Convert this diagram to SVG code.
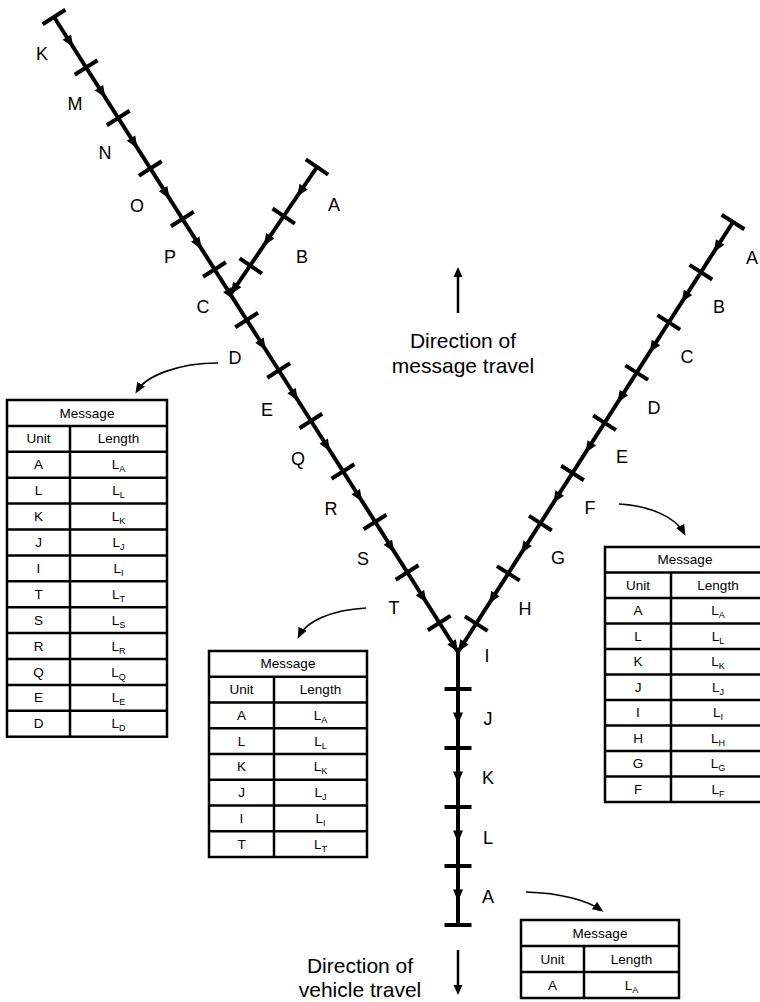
<svg xmlns="http://www.w3.org/2000/svg" xmlns:xlink="http://www.w3.org/1999/xlink" width="760" height="1002" viewBox="0 0 760 1002">
<style>
.main{stroke:#000;stroke-width:4;fill:none}
.tk{stroke:#000;stroke-width:4}
.lbl{font-family:"Liberation Sans",Arial,sans-serif;font-size:18px;fill:#000;text-anchor:middle}
.dir{font-family:"Liberation Sans",Arial,sans-serif;font-size:21px;fill:#000;text-anchor:middle}
.tb{fill:#fff;stroke:#000;stroke-width:2.5}
.tl{stroke:#000;stroke-width:2.5}
.tt{font-family:"Liberation Sans",Arial,sans-serif;font-size:13.5px;fill:#000;text-anchor:middle}
.sub{font-size:9px;fill:#000}
.curve{stroke:#000;stroke-width:1.6;fill:none}
.darr{stroke:#000;stroke-width:2.5;fill:none}
</style>
<defs>
<path id="ah" d="M6,0 L-6,-5 L-6,5 Z" fill="#000"/>
<line id="tick" x1="0" y1="-13.5" x2="0" y2="13.5" class="tk"/>
<marker id="ca" markerUnits="userSpaceOnUse" markerWidth="11" markerHeight="11" refX="8" refY="5.5" orient="auto"><path d="M0,1 L11,5.5 L0,10 Z" fill="#000"/></marker>
<marker id="da" markerUnits="userSpaceOnUse" markerWidth="10" markerHeight="12" refX="2" refY="5" orient="auto"><path d="M0,0.5 L10,5 L0,9.5 Z" fill="#000"/></marker>
</defs>

<g id="connectors">
  <!-- left main line K..T -->
  <g id="line-left">
    <line x1="54" y1="17" x2="458" y2="652" class="main"/>
    <use xlink:href="#tick" transform="translate(54,17) rotate(57.56)"/>
    <use xlink:href="#tick" transform="translate(86.1,67.5) rotate(57.56)"/>
    <use xlink:href="#tick" transform="translate(118.2,118) rotate(57.56)"/>
    <use xlink:href="#tick" transform="translate(150.3,168.5) rotate(57.56)"/>
    <use xlink:href="#tick" transform="translate(182.4,219) rotate(57.56)"/>
    <use xlink:href="#tick" transform="translate(214.5,269.5) rotate(57.56)"/>
    <use xlink:href="#tick" transform="translate(246.6,320) rotate(57.56)"/>
    <use xlink:href="#tick" transform="translate(278.7,370.5) rotate(57.56)"/>
    <use xlink:href="#tick" transform="translate(310.8,421) rotate(57.56)"/>
    <use xlink:href="#tick" transform="translate(342.9,471.5) rotate(57.56)"/>
    <use xlink:href="#tick" transform="translate(375,522) rotate(57.56)"/>
    <use xlink:href="#tick" transform="translate(407.1,572.5) rotate(57.56)"/>
    <use xlink:href="#tick" transform="translate(439.2,623) rotate(57.56)"/>
    <use xlink:href="#ah" transform="translate(70.05,42.25) rotate(57.56)"/>
    <use xlink:href="#ah" transform="translate(102.15,92.75) rotate(57.56)"/>
    <use xlink:href="#ah" transform="translate(134.25,143.25) rotate(57.56)"/>
    <use xlink:href="#ah" transform="translate(166.35,193.75) rotate(57.56)"/>
    <use xlink:href="#ah" transform="translate(198.45,244.25) rotate(57.56)"/>
    <use xlink:href="#ah" transform="translate(230.55,294.75) rotate(57.56)"/>
    <use xlink:href="#ah" transform="translate(262.65,345.25) rotate(57.56)"/>
    <use xlink:href="#ah" transform="translate(294.75,395.75) rotate(57.56)"/>
    <use xlink:href="#ah" transform="translate(326.85,446.25) rotate(57.56)"/>
    <use xlink:href="#ah" transform="translate(358.95,496.75) rotate(57.56)"/>
    <use xlink:href="#ah" transform="translate(391.05,547.25) rotate(57.56)"/>
    <use xlink:href="#ah" transform="translate(423.15,597.75) rotate(57.56)"/>
    <use xlink:href="#ah" transform="translate(454.8,646.9) rotate(57.56)"/>
  </g>
  <!-- short branch A,B -->
  <g id="line-branch">
    <line x1="317" y1="167" x2="230.5" y2="294.5" class="main"/>
    <use xlink:href="#tick" transform="translate(317,167) rotate(124.15)"/>
    <use xlink:href="#tick" transform="translate(283.7,216.1) rotate(124.15)"/>
    <use xlink:href="#tick" transform="translate(250.8,266) rotate(124.15)"/>
    <use xlink:href="#ah" transform="translate(300.3,191.6) rotate(124.15)"/>
    <use xlink:href="#ah" transform="translate(267,240.7) rotate(124.15)"/>
    <use xlink:href="#ah" transform="translate(233.9,289.5) rotate(124.15)"/>
  </g>
  <!-- right main line A..H -->
  <g id="line-right">
    <line x1="733" y1="222" x2="458" y2="652" class="main"/>
    <use xlink:href="#tick" transform="translate(733,222) rotate(122.6)"/>
    <use xlink:href="#tick" transform="translate(700.9,272.2) rotate(122.6)"/>
    <use xlink:href="#tick" transform="translate(668.8,322.4) rotate(122.6)"/>
    <use xlink:href="#tick" transform="translate(636.7,372.6) rotate(122.6)"/>
    <use xlink:href="#tick" transform="translate(604.6,422.8) rotate(122.6)"/>
    <use xlink:href="#tick" transform="translate(572.5,473) rotate(122.6)"/>
    <use xlink:href="#tick" transform="translate(540.4,523.2) rotate(122.6)"/>
    <use xlink:href="#tick" transform="translate(508.3,573.4) rotate(122.6)"/>
    <use xlink:href="#tick" transform="translate(476.2,623.6) rotate(122.6)"/>
    <use xlink:href="#ah" transform="translate(716.95,247.1) rotate(122.6)"/>
    <use xlink:href="#ah" transform="translate(684.85,297.3) rotate(122.6)"/>
    <use xlink:href="#ah" transform="translate(652.75,347.5) rotate(122.6)"/>
    <use xlink:href="#ah" transform="translate(620.65,397.7) rotate(122.6)"/>
    <use xlink:href="#ah" transform="translate(588.55,447.9) rotate(122.6)"/>
    <use xlink:href="#ah" transform="translate(556.45,498.1) rotate(122.6)"/>
    <use xlink:href="#ah" transform="translate(524.35,548.3) rotate(122.6)"/>
    <use xlink:href="#ah" transform="translate(492.25,598.5) rotate(122.6)"/>
    <use xlink:href="#ah" transform="translate(461.2,646.9) rotate(122.6)"/>
  </g>
  <!-- vertical I..A -->
  <g id="line-vertical">
    <line x1="458" y1="650" x2="458" y2="925" class="main"/>
    <use xlink:href="#tick" transform="translate(458,689) rotate(90)"/>
    <use xlink:href="#tick" transform="translate(458,748) rotate(90)"/>
    <use xlink:href="#tick" transform="translate(458,807) rotate(90)"/>
    <use xlink:href="#tick" transform="translate(458,866) rotate(90)"/>
    <use xlink:href="#tick" transform="translate(458,925) rotate(90)"/>
    <use xlink:href="#ah" transform="translate(458,718.5) rotate(90)"/>
    <use xlink:href="#ah" transform="translate(458,777.5) rotate(90)"/>
    <use xlink:href="#ah" transform="translate(458,836.5) rotate(90)"/>
    <use xlink:href="#ah" transform="translate(458,895.5) rotate(90)"/>
  </g>
  <!-- curved callout arrows -->
  <path d="M218,363 C178,363 146,376 137,391" class="curve" marker-end="url(#ca)"/>
  <path d="M366,608 C330,610 306,622 299,636" class="curve" marker-end="url(#ca)"/>
  <path d="M619,504 C652,506 676,518 684,533" class="curve" marker-end="url(#ca)"/>
  <path d="M526,892 C562,893 588,901 601,910" class="curve" marker-end="url(#ca)"/>
  <!-- direction arrows -->
  <line x1="458" y1="313" x2="458" y2="275" class="darr" marker-end="url(#da)"/>
  <line x1="458" y1="950" x2="458" y2="987" class="darr" marker-end="url(#da)"/>
</g>

<g id="labels">
  <text class="lbl" x="42" y="59.5">K</text>
  <text class="lbl" x="75" y="109.5">M</text>
  <text class="lbl" x="105" y="158.5">N</text>
  <text class="lbl" x="137" y="211.5">O</text>
  <text class="lbl" x="170" y="262.5">P</text>
  <text class="lbl" x="203" y="312.5">C</text>
  <text class="lbl" x="235" y="363.5">D</text>
  <text class="lbl" x="267" y="415.5">E</text>
  <text class="lbl" x="298" y="464.5">Q</text>
  <text class="lbl" x="331" y="514.5">R</text>
  <text class="lbl" x="363" y="564.5">S</text>
  <text class="lbl" x="394" y="613.5">T</text>
  <text class="lbl" x="334" y="210.5">A</text>
  <text class="lbl" x="302" y="262.5">B</text>
  <text class="lbl" x="752" y="263.5">A</text>
  <text class="lbl" x="719" y="312.5">B</text>
  <text class="lbl" x="687" y="362.5">C</text>
  <text class="lbl" x="654" y="413.5">D</text>
  <text class="lbl" x="622" y="462.5">E</text>
  <text class="lbl" x="590" y="513.5">F</text>
  <text class="lbl" x="558" y="563.5">G</text>
  <text class="lbl" x="525" y="614.5">H</text>
  <text class="lbl" x="487" y="661.5">I</text>
  <text class="lbl" x="488" y="724.5">J</text>
  <text class="lbl" x="488" y="783.5">K</text>
  <text class="lbl" x="488" y="843.5">L</text>
  <text class="lbl" x="488" y="902.5">A</text>
  <text class="dir" x="463" y="348">Direction of</text>
  <text class="dir" x="463" y="373">message travel</text>
  <text class="dir" x="360" y="973">Direction of</text>
  <text class="dir" x="360" y="997">vehicle travel</text>
</g>

<g id="table-D">
  <rect x="7" y="400" width="160" height="336.7" class="tb"/>
  <line x1="7" y1="425.9" x2="167" y2="425.9" class="tl"/>
  <line x1="7" y1="451.8" x2="167" y2="451.8" class="tl"/>
  <line x1="7" y1="477.7" x2="167" y2="477.7" class="tl"/>
  <line x1="7" y1="503.6" x2="167" y2="503.6" class="tl"/>
  <line x1="7" y1="529.5" x2="167" y2="529.5" class="tl"/>
  <line x1="7" y1="555.4" x2="167" y2="555.4" class="tl"/>
  <line x1="7" y1="581.3" x2="167" y2="581.3" class="tl"/>
  <line x1="7" y1="607.2" x2="167" y2="607.2" class="tl"/>
  <line x1="7" y1="633.1" x2="167" y2="633.1" class="tl"/>
  <line x1="7" y1="659" x2="167" y2="659" class="tl"/>
  <line x1="7" y1="684.9" x2="167" y2="684.9" class="tl"/>
  <line x1="7" y1="710.8" x2="167" y2="710.8" class="tl"/>
  <line x1="70" y1="425.9" x2="70" y2="736.7" class="tl"/>
  <text class="tt" x="87" y="417.5">Message</text>
  <text class="tt" x="38.5" y="443.4">Unit</text>
  <text class="tt" x="118.5" y="443.4">Length</text>
  <text class="tt" x="38.5" y="469.3">A</text><text class="tt" x="118.5" y="469.3">L<tspan class="sub" dy="3">A</tspan></text>
  <text class="tt" x="38.5" y="495.2">L</text><text class="tt" x="118.5" y="495.2">L<tspan class="sub" dy="3">L</tspan></text>
  <text class="tt" x="38.5" y="521.1">K</text><text class="tt" x="118.5" y="521.1">L<tspan class="sub" dy="3">K</tspan></text>
  <text class="tt" x="38.5" y="547">J</text><text class="tt" x="118.5" y="547">L<tspan class="sub" dy="3">J</tspan></text>
  <text class="tt" x="38.5" y="572.9">I</text><text class="tt" x="118.5" y="572.9">L<tspan class="sub" dy="3">I</tspan></text>
  <text class="tt" x="38.5" y="598.8">T</text><text class="tt" x="118.5" y="598.8">L<tspan class="sub" dy="3">T</tspan></text>
  <text class="tt" x="38.5" y="624.7">S</text><text class="tt" x="118.5" y="624.7">L<tspan class="sub" dy="3">S</tspan></text>
  <text class="tt" x="38.5" y="650.6">R</text><text class="tt" x="118.5" y="650.6">L<tspan class="sub" dy="3">R</tspan></text>
  <text class="tt" x="38.5" y="676.5">Q</text><text class="tt" x="118.5" y="676.5">L<tspan class="sub" dy="3">Q</tspan></text>
  <text class="tt" x="38.5" y="702.4">E</text><text class="tt" x="118.5" y="702.4">L<tspan class="sub" dy="3">E</tspan></text>
  <text class="tt" x="38.5" y="728.3">D</text><text class="tt" x="118.5" y="728.3">L<tspan class="sub" dy="3">D</tspan></text>
</g>

<g id="table-T">
  <rect x="209" y="651" width="158" height="206" class="tb"/>
  <line x1="209" y1="676.75" x2="367" y2="676.75" class="tl"/>
  <line x1="209" y1="702.5" x2="367" y2="702.5" class="tl"/>
  <line x1="209" y1="728.25" x2="367" y2="728.25" class="tl"/>
  <line x1="209" y1="754" x2="367" y2="754" class="tl"/>
  <line x1="209" y1="779.75" x2="367" y2="779.75" class="tl"/>
  <line x1="209" y1="805.5" x2="367" y2="805.5" class="tl"/>
  <line x1="209" y1="831.25" x2="367" y2="831.25" class="tl"/>
  <line x1="274" y1="676.75" x2="274" y2="857" class="tl"/>
  <text class="tt" x="288" y="668.4">Message</text>
  <text class="tt" x="241.5" y="694.2">Unit</text>
  <text class="tt" x="320.5" y="694.2">Length</text>
  <text class="tt" x="241.5" y="719.9">A</text><text class="tt" x="320.5" y="719.9">L<tspan class="sub" dy="3">A</tspan></text>
  <text class="tt" x="241.5" y="745.7">L</text><text class="tt" x="320.5" y="745.7">L<tspan class="sub" dy="3">L</tspan></text>
  <text class="tt" x="241.5" y="771.4">K</text><text class="tt" x="320.5" y="771.4">L<tspan class="sub" dy="3">K</tspan></text>
  <text class="tt" x="241.5" y="797.2">J</text><text class="tt" x="320.5" y="797.2">L<tspan class="sub" dy="3">J</tspan></text>
  <text class="tt" x="241.5" y="822.9">I</text><text class="tt" x="320.5" y="822.9">L<tspan class="sub" dy="3">I</tspan></text>
  <text class="tt" x="241.5" y="848.7">T</text><text class="tt" x="320.5" y="848.7">L<tspan class="sub" dy="3">T</tspan></text>
</g>

<g id="table-F">
  <rect x="605" y="547" width="160" height="255" class="tb"/>
  <line x1="605" y1="572.5" x2="765" y2="572.5" class="tl"/>
  <line x1="605" y1="598" x2="765" y2="598" class="tl"/>
  <line x1="605" y1="623.5" x2="765" y2="623.5" class="tl"/>
  <line x1="605" y1="649" x2="765" y2="649" class="tl"/>
  <line x1="605" y1="674.5" x2="765" y2="674.5" class="tl"/>
  <line x1="605" y1="700" x2="765" y2="700" class="tl"/>
  <line x1="605" y1="725.5" x2="765" y2="725.5" class="tl"/>
  <line x1="605" y1="751" x2="765" y2="751" class="tl"/>
  <line x1="605" y1="776.5" x2="765" y2="776.5" class="tl"/>
  <line x1="671" y1="572.5" x2="671" y2="802" class="tl"/>
  <text class="tt" x="685" y="564.3">Message</text>
  <text class="tt" x="638" y="589.8">Unit</text>
  <text class="tt" x="718" y="589.8">Length</text>
  <text class="tt" x="638" y="615.3">A</text><text class="tt" x="718" y="615.3">L<tspan class="sub" dy="3">A</tspan></text>
  <text class="tt" x="638" y="640.8">L</text><text class="tt" x="718" y="640.8">L<tspan class="sub" dy="3">L</tspan></text>
  <text class="tt" x="638" y="666.3">K</text><text class="tt" x="718" y="666.3">L<tspan class="sub" dy="3">K</tspan></text>
  <text class="tt" x="638" y="691.8">J</text><text class="tt" x="718" y="691.8">L<tspan class="sub" dy="3">J</tspan></text>
  <text class="tt" x="638" y="717.3">I</text><text class="tt" x="718" y="717.3">L<tspan class="sub" dy="3">I</tspan></text>
  <text class="tt" x="638" y="742.8">H</text><text class="tt" x="718" y="742.8">L<tspan class="sub" dy="3">H</tspan></text>
  <text class="tt" x="638" y="768.3">G</text><text class="tt" x="718" y="768.3">L<tspan class="sub" dy="3">G</tspan></text>
  <text class="tt" x="638" y="793.8">F</text><text class="tt" x="718" y="793.8">L<tspan class="sub" dy="3">F</tspan></text>
</g>

<g id="table-A">
  <rect x="521" y="920" width="158" height="78" class="tb"/>
  <line x1="521" y1="946" x2="679" y2="946" class="tl"/>
  <line x1="521" y1="972" x2="679" y2="972" class="tl"/>
  <line x1="584" y1="946" x2="584" y2="998" class="tl"/>
  <text class="tt" x="600" y="937.5">Message</text>
  <text class="tt" x="552.5" y="963.5">Unit</text>
  <text class="tt" x="631.5" y="963.5">Length</text>
  <text class="tt" x="552.5" y="989.5">A</text><text class="tt" x="631.5" y="989.5">L<tspan class="sub" dy="3">A</tspan></text>
</g>
</svg>
